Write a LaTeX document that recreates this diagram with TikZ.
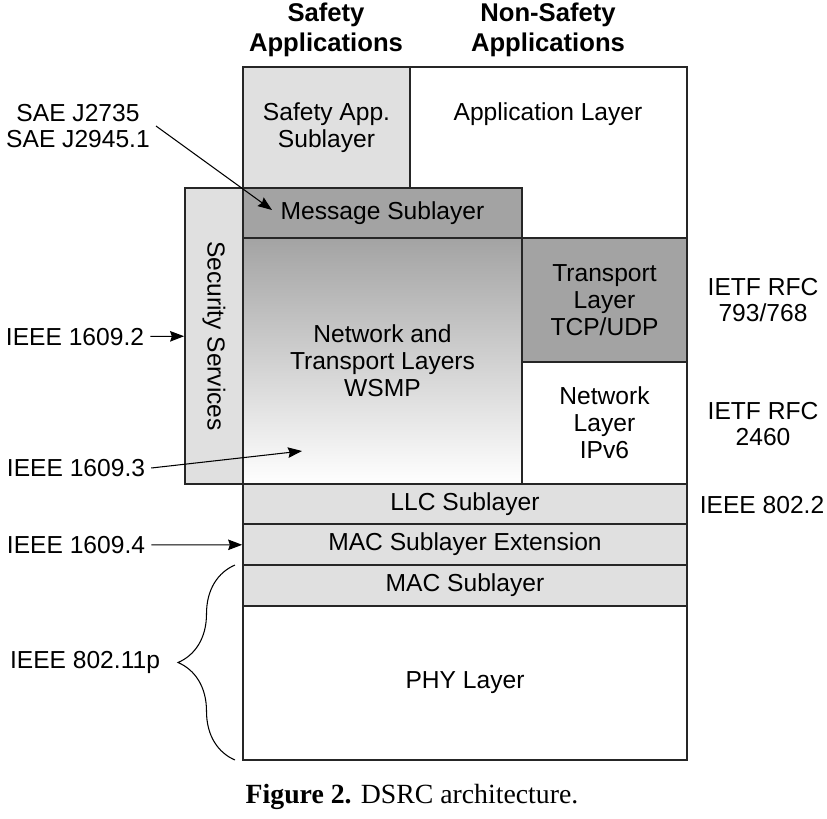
\documentclass[tikz,border=0pt]{standalone}
\usepackage{fontspec}
\setmainfont{Liberation Sans}
\newfontfamily\capfont{Liberation Serif}
\usetikzlibrary{arrows.meta, positioning, decorations.pathreplacing}

\begin{document}
\begin{tikzpicture}[
    x=0.02cm, y=-0.02cm,
    layer/.style={rectangle, draw=black!85, line width=1pt, inner sep=0pt, align=center, font=\fontsize{14}{15.3}\selectfont},
    light/.style={layer, fill=black!12},
    dark/.style={layer, fill=black!36},
    plain/.style={layer, fill=white},
    lbl/.style={align=center, font=\fontsize{14}{15.3}\selectfont},
    head/.style={align=center, font=\bfseries\fontsize{14.6}{17}\selectfont},
    arrow/.style={semithick,-{Stealth[length=8pt,width=6pt,inset=1pt]}}
]

\useasboundingbox (0,0) rectangle (827,818);

% Headers
\node (safehead) [head] at (326,30) {Safety\\Applications};
\node (nonhead) [head] at (548,30) {Non-Safety\\Applications};

% Application layers
\node (app) [plain, minimum width=5.54cm, minimum height=3.42cm] at (548.5,152.5) {};
\node (applbl) [lbl] at (548,114) {Application Layer};
\node (safeapp) [light, minimum width=3.34cm, minimum height=2.42cm] at (326.5,127.5) {Safety App.\\Sublayer};

% Security and WAVE layers
\node (security) [light, rotate=-90, minimum width=5.92cm, minimum height=1.16cm] at (214,336) {Security Services};
\node (message) [dark, minimum width=5.58cm, minimum height=1cm] at (382.5,213) {Message Sublayer};
\node (wsmp) [layer, top color=black!36, bottom color=white, minimum width=5.58cm, minimum height=4.92cm] at (382.5,361) {Network and\\Transport Layers\\WSMP};
\node (transport) [dark, minimum width=3.3cm, minimum height=2.48cm] at (604.5,300) {Transport\\Layer\\TCP/UDP};
\node (network) [plain, minimum width=3.3cm, minimum height=2.44cm] at (604.5,423) {Network\\Layer\\IPv6};

% Lower layers
\node (llc) [light, minimum width=8.88cm, minimum height=0.8cm] at (465,504) {LLC Sublayer};
\node (macext) [light, minimum width=8.88cm, minimum height=0.82cm] at (465,544.5) {MAC Sublayer Extension};
\node (mac) [light, minimum width=8.88cm, minimum height=0.82cm] at (465,585.5) {MAC Sublayer};
\node (phy) [plain, minimum width=8.88cm, minimum height=3.08cm] at (465,683) {PHY Layer};

% Standards
\node (sae) [lbl] at (78,126) {SAE J2735\\SAE J2945.1};
\node (ieee2) [lbl] at (75,337) {IEEE 1609.2};
\node (ieee3) [lbl] at (76,468) {IEEE 1609.3};
\node (ieee4) [lbl] at (76,545) {IEEE 1609.4};
\node (ieee11) [lbl] at (85,662) {IEEE 802.11p};
\node (rfc793) [lbl] at (763,300) {IETF RFC\\793/768};
\node (rfc2460) [lbl] at (763,424) {IETF RFC\\2460};
\node (ieee8022) [lbl] at (762,505) {IEEE 802.2};

% Caption
\node (caption) [font=\capfont\fontsize{15.8}{18}\selectfont] at (412,797) {\textbf{Figure 2.} DSRC architecture.};

% Arrows
\coordinate (msgtip) at (272,210);
\coordinate (wsmptip) at (302,451);
\draw [arrow] (sae.east) -- (msgtip);
\draw [arrow] (ieee2) -- (security);
\draw [arrow] (ieee3.east) -- (wsmptip);
\draw [arrow] (ieee4) -- (macext);
\draw [semithick, decorate, decoration={brace, amplitude=1.14cm}] (235,760) -- (235,565);

\end{tikzpicture}
\end{document}
